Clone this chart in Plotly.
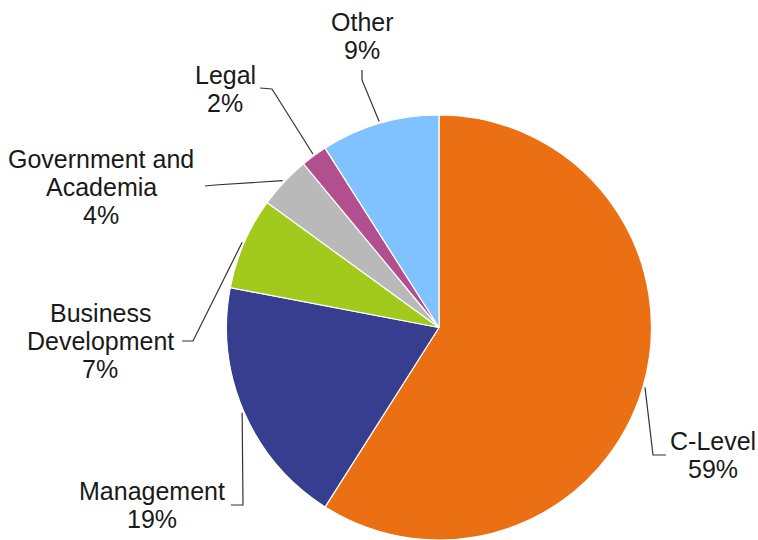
import math
import plotly.graph_objects as go

# ---- data ----
categories = ["C-Level", "Management", "Business Development",
              "Government and Academia", "Legal", "Other"]
values = [59, 19, 7, 4, 2, 9]
label_lines = [["C-Level"], ["Management"], ["Business", "Development"],
               ["Government and", "Academia"], ["Legal"], ["Other"]]
colors = ["#EB7014", "#373E8F", "#A1CA1D", "#B9B9B9", "#B2508F", "#80C2FF"]

# ---- layout (pixels) ----
W, H = 758, 540
CX, CY, R = 439, 327.5, 212.5
# text block: (center x, first line y) ; leader: elbow point, end point
label_layout = [
    dict(tx=713, ty=441, elbow=(653, 455), end=(666, 455)),
    dict(tx=152, ty=491, elbow=(243, 505), end=(231, 505)),
    dict(tx=100, ty=313, elbow=(193, 341), end=(182, 341)),
    dict(tx=101, ty=159, elbow=(215, 185), end=(205, 186)),
    dict(tx=225, ty=75, elbow=(272, 89), end=(260, 88)),
    dict(tx=362, ty=22, elbow=(362, 80), end=(362, 70)),
]
LINE_H = 28

def px(x):
    return x / W

def py(y):
    return 1 - y / H

fig = go.Figure(go.Pie(
    labels=categories, values=values, sort=False, direction="clockwise",
    rotation=0, textinfo="none", hoverinfo="label+percent",
    marker=dict(colors=colors, line=dict(color="white", width=1.2)),
    domain=dict(x=[px(CX - R), px(CX + R)], y=[py(CY + R), py(CY - R)]),
    showlegend=False,
))

total = sum(values)
cum = 0
annotations = []
shapes = []
for i, (cat, v) in enumerate(zip(categories, values)):
    mid = (cum + v / 2) / total * 2 * math.pi
    cum += v
    sx = CX + (R + 2) * math.sin(mid)
    sy = CY - (R + 2) * math.cos(mid)
    lay = label_layout[i]
    ex, ey = lay["elbow"]
    fx, fy = lay["end"]
    path = f"M {px(sx)},{py(sy)} L {px(ex)},{py(ey)} L {px(fx)},{py(fy)}"
    shapes.append(dict(type="path", xref="paper", yref="paper", path=path,
                       line=dict(color="#333333", width=1.2)))
    lines = label_lines[i] + [f"{round(v / total * 100)}%"]
    for k, t in enumerate(lines):
        annotations.append(dict(
            text=t, x=px(lay["tx"]), y=py(lay["ty"] + k * LINE_H),
            xref="paper", yref="paper", xanchor="center", yanchor="middle",
            showarrow=False,
            font=dict(family="Liberation Sans, Arial, sans-serif", size=25,
                      color="#1a1a1a")))

fig.update_layout(
    width=W, height=H, margin=dict(l=0, r=0, t=0, b=0),
    paper_bgcolor="white", plot_bgcolor="white",
    annotations=annotations, shapes=shapes,
)
fig.write_html("out.html", config={"displayModeBar": False},
               post_script="document.body.style.margin='0';"
                           "document.body.style.overflow='hidden';")
